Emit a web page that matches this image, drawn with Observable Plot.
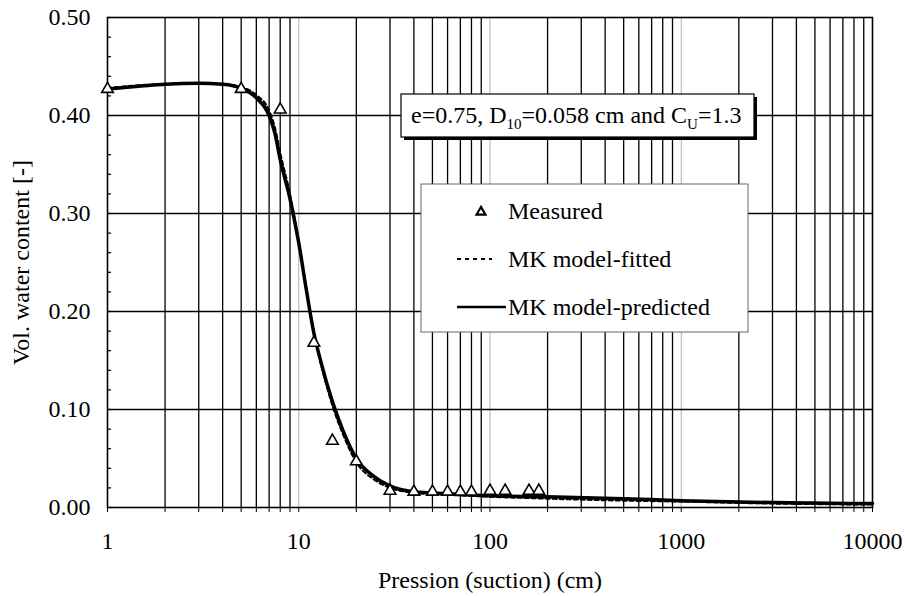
<!DOCTYPE html>
<html>
<head>
<meta charset="utf-8">
<script src="https://cdn.jsdelivr.net/npm/d3@7"></script>
<script src="https://cdn.jsdelivr.net/npm/@observablehq/plot@0.6"></script>
<style>
  body { margin: 0; background: #fff; }
  #chart svg, #chart svg text { font-family: "Liberation Serif", "Times New Roman", serif !important; }
</style>
</head>
<body>
<div id="chart"></div>
<script>
// Measured retention points: suction (cm) and volumetric water content
const measuredSuction = [1, 5, 8, 12, 15, 20, 30, 40, 50, 60, 70, 80, 100, 120, 160, 180];
const measuredTheta   = [0.427, 0.427, 0.406, 0.168, 0.068, 0.047, 0.017, 0.016, 0.016, 0.016, 0.016, 0.016, 0.017, 0.017, 0.017, 0.017];

// MK model curves sampled along suction
const curveSuction   = [1, 1.5, 2, 3, 4, 5, 6, 7, 7.5, 8, 9, 10, 11, 12, 13, 15, 17, 20, 25, 30, 40, 60, 100, 200, 500, 1000, 3000, 10000];
const predictedTheta = [0.427, 0.430, 0.432, 0.433, 0.432, 0.428, 0.418, 0.400, 0.382, 0.355, 0.315, 0.270, 0.220, 0.178, 0.150, 0.108, 0.079, 0.050, 0.031, 0.022, 0.016, 0.014, 0.012, 0.011, 0.009, 0.007, 0.005, 0.004];
const fittedTheta    = [0.428, 0.431, 0.432, 0.433, 0.432, 0.429, 0.421, 0.405, 0.388, 0.362, 0.320, 0.272, 0.222, 0.178, 0.148, 0.104, 0.075, 0.046, 0.028, 0.020, 0.015, 0.013, 0.011, 0.009, 0.007, 0.006, 0.004, 0.003];

// Axis ticks
const xMajor = [1, 10, 100, 1000, 10000];
const xMinor = [1, 10, 100, 1000].flatMap(d => [2, 3, 4, 5, 6, 7, 8, 9].map(k => d * k));
const yMajor = [0, 0.1, 0.2, 0.3, 0.4, 0.5];
const yMinor = d3.range(0, 26).map(i => +(i * 0.02).toFixed(2));

const measured  = measuredSuction.map((s, i) => ({s, theta: measuredTheta[i]}));
const predicted = curveSuction.map((s, i) => ({s, theta: predictedTheta[i]}));
const fitted    = curveSuction.map((s, i) => ({s, theta: fittedTheta[i]}));

const FONT = 24;

const chart = Plot.plot({
  width: 905,
  height: 596,
  marginLeft: 107,
  marginRight: 33,
  marginTop: 17,
  marginBottom: 89,
  style: {fontSize: FONT + "px", color: "#000", background: "#fff"},
  x: {type: "log", domain: [1, 10000]},
  y: {domain: [0, 0.5]},
  marks: [
    // grid
    Plot.ruleX(xMajor.slice(1, -1), {stroke: "#b0b0b0", strokeWidth: 1}),
    Plot.ruleX(xMinor, {stroke: "#000", strokeWidth: 1.3}),
    Plot.ruleY(yMajor.slice(1, -1), {stroke: "#000", strokeWidth: 1.3}),
    // short inward minor ticks on the left edge
    Plot.ruleY(yMinor, {x1: 1, x2: 1.05, stroke: "#000", strokeWidth: 1.2}),
    Plot.frame({stroke: "#000", strokeWidth: 1.6}),
    // axes
    Plot.axisX({
      ticks: [...xMajor, ...xMinor],
      tickFormat: d => xMajor.includes(d) ? String(d) : "",
      tickSize: 5,
      tickPadding: 19,
      fontSize: FONT,
      label: "Pression (suction) (cm)",
      labelAnchor: "center",
      labelOffset: 80,
      labelArrow: "none"
    }),
    Plot.axisY({
      ticks: yMajor,
      tickFormat: d => d.toFixed(2),
      tickSize: 0,
      tickPadding: 17,
      fontSize: FONT,
      label: "Vol. water content [-]",
      labelAnchor: "center",
      labelOffset: 96,
      labelArrow: "none"
    }),
    // model curves
    Plot.line(predicted, {x: "s", y: "theta", stroke: "#000", strokeWidth: 3.5, curve: "monotone-x"}),
    Plot.line(fitted, {x: "s", y: "theta", stroke: "#000", strokeWidth: 2, strokeDasharray: "4,3", curve: "monotone-x"}),
    // measured points
    Plot.dot(measured, {x: "s", y: "theta", symbol: "triangle", r: 4.3, fill: "#fff", stroke: "#000", strokeWidth: 1.6})
  ]
});

document.getElementById("chart").appendChild(chart);

// Parameter annotation and legend boxes drawn over the plot area
const svg = d3.select(chart);
const ann = svg.append("g").attr("text-anchor", "start");
ann.append("rect").attr("x", 404).attr("y", 97).attr("width", 353).attr("height", 43).attr("fill", "#000");
ann.append("rect").attr("x", 401).attr("y", 94).attr("width", 353).attr("height", 43)
  .attr("fill", "#fff").attr("stroke", "#000").attr("stroke-width", 1.2);
const t = ann.append("text").attr("x", 411).attr("y", 123).attr("font-size", FONT).attr("fill", "#000");
t.append("tspan").text("e=0.75, D");
t.append("tspan").attr("font-size", 15).attr("dy", 6).text("10");
t.append("tspan").attr("dy", -6).text("=0.058 cm and C");
t.append("tspan").attr("font-size", 15).attr("dy", 6).text("U");
t.append("tspan").attr("dy", -6).text("=1.3");

const leg = svg.append("g").attr("text-anchor", "start");
leg.append("rect").attr("x", 421).attr("y", 184).attr("width", 327).attr("height", 148)
  .attr("fill", "#fff").attr("stroke", "#666").attr("stroke-width", 1);
leg.append("path").attr("d", d3.symbol(d3.symbolTriangle, Math.PI * 3.3 * 3.3)())
  .attr("transform", "translate(481,212)").attr("fill", "#fff").attr("stroke", "#000").attr("stroke-width", 2.2);
leg.append("line").attr("x1", 457).attr("x2", 492).attr("y1", 259).attr("y2", 259)
  .attr("stroke", "#000").attr("stroke-width", 2).attr("stroke-dasharray", "4,4");
leg.append("line").attr("x1", 457).attr("x2", 506).attr("y1", 307).attr("y2", 307)
  .attr("stroke", "#000").attr("stroke-width", 2.5);
const labels = [["Measured", 219], ["MK model-fitted", 267], ["MK model-predicted", 315]];
labels.forEach(([txt, y]) => {
  leg.append("text").attr("x", 508).attr("y", y).attr("font-size", FONT).attr("fill", "#000").text(txt);
});
</script>
</body>
</html>
